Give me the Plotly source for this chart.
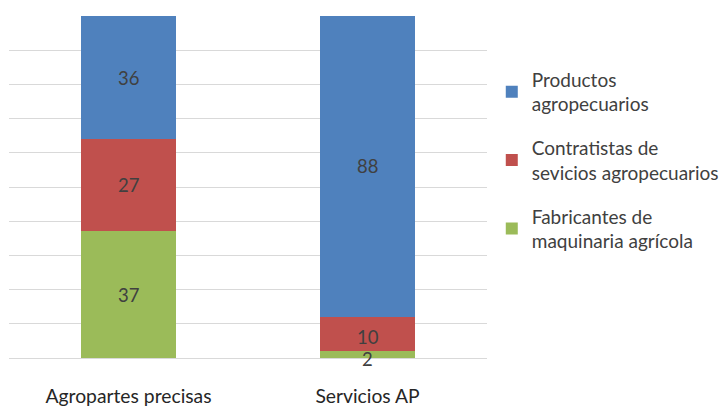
import plotly.graph_objects as go

categories = ["Agropartes precisas", "Servicios AP"]
series_names = [
    "Fabricantes de<br>maquinaria agrícola",
    "Contratistas de<br>sevicios agropecuarios",
    "Productos<br>agropecuarios",
]
fabricantes = [37, 2]
contratistas = [27, 10]
productos = [36, 88]
colors = ["#9BBB59", "#C0504D", "#4F81BD"]

series_values = [fabricantes, contratistas, productos]
FONT = "Lato"
TEXT_COLOR = "#404040"

fig = go.Figure()
for i, (name, vals, col) in enumerate(zip(series_names, series_values, colors)):
    fig.add_trace(go.Bar(
        x=categories, y=vals, name=name, marker_color=col,
        marker_line_width=0, legendgroup=f"g{i}",
        legendrank=1000 - i,
    ))

# value labels centred in each segment
label_shift = {(0, 1): -4, (1, 1): -3}
for ci, cat in enumerate(categories):
    base = 0
    for si, vals in enumerate(series_values):
        v = vals[ci]
        fig.add_annotation(
            x=cat, y=base + v / 2, text=str(v), showarrow=False,
            yshift=label_shift.get((si, ci), 0),
            font=dict(family=FONT, size=18.5, color=TEXT_COLOR),
        )
        base += v

fig.update_layout(
    width=723, height=410,
    margin=dict(l=9, r=236, t=16, b=52, autoexpand=False),
    barmode="stack", bargap=0.6,
    plot_bgcolor="white", paper_bgcolor="white",
    font=dict(family=FONT, color=TEXT_COLOR),
    legend=dict(
        x=1.01, xanchor="left", y=0.87, yanchor="top",
        traceorder="grouped", tracegroupgap=16,
        font=dict(family=FONT, size=19, color=TEXT_COLOR),
        itemwidth=30,
    ),
)
fig.update_xaxes(
    showgrid=False, showline=False, ticks="",
    tickfont=dict(family=FONT, size=19.3, color="#262626"),
    ticklabelstandoff=25,
)
fig.update_yaxes(
    range=[0, 100], dtick=10, showticklabels=False,
    gridcolor="#D9D9D9", gridwidth=1, zeroline=True,
    zerolinecolor="#D9D9D9", zerolinewidth=1,
)

fig.write_html("out.html")
